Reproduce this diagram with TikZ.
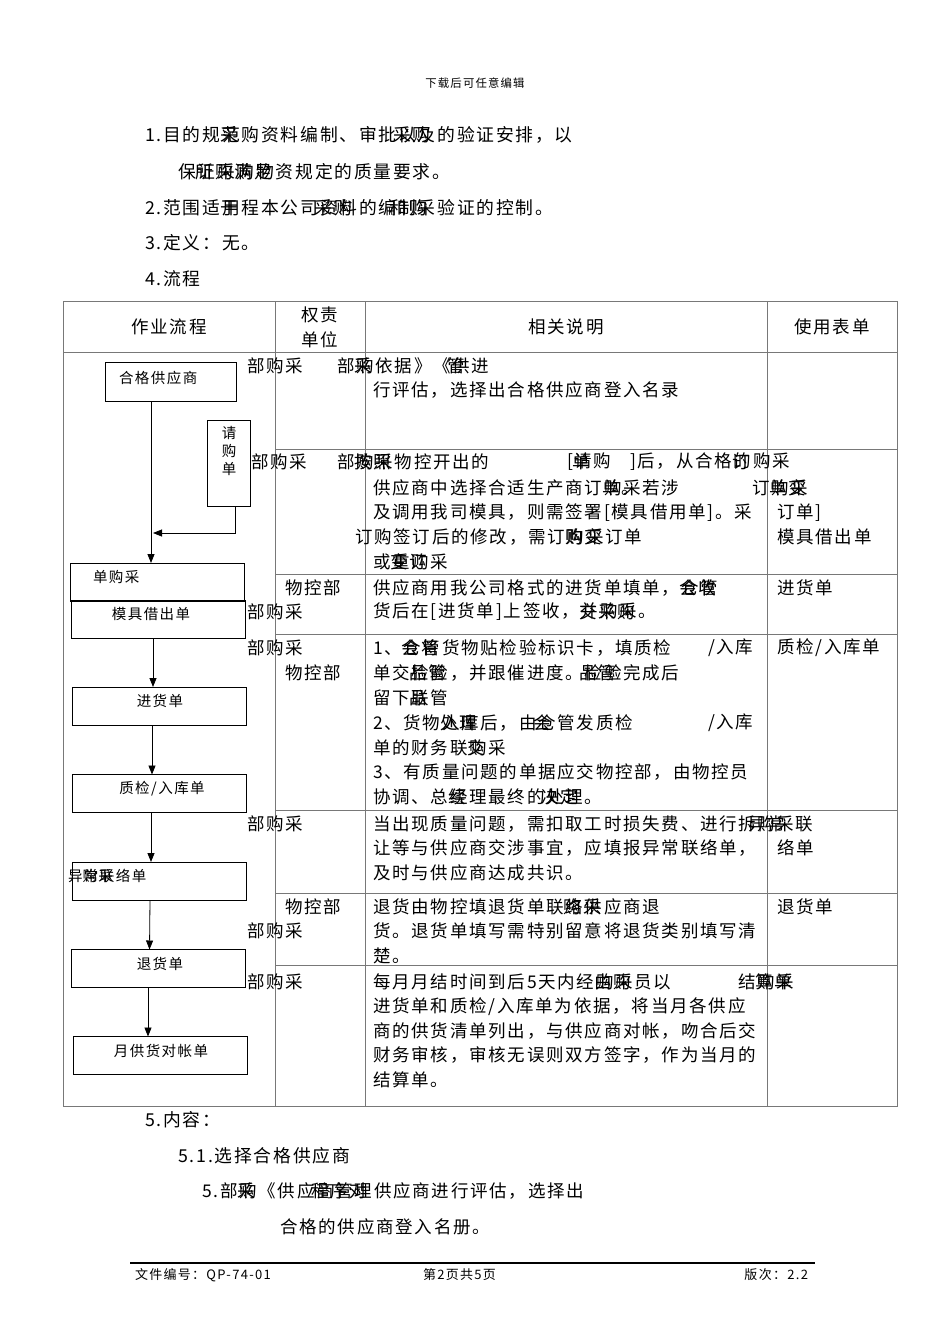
\documentclass[tikz,border=0pt]{standalone}
\usepackage{fontspec}
\setmainfont[LetterSpace=10]{Noto Sans CJK SC}
\usetikzlibrary{arrows.meta,positioning}
\definecolor{rulegray}{RGB}{120,120,120}

\newcommand{\bodysize}{\fontsize{17.5}{21}\selectfont}
\newcommand{\headsize}{\fontsize{17.8}{21}\selectfont}
\newcommand{\boxsize}{\fontsize{14.5}{18}\selectfont}
\newcommand{\smallsize}{\fontsize{11.4}{14}\selectfont}
\newcommand{\footsize}{\fontsize{13}{16}\selectfont}

\begin{document}
\begin{tikzpicture}[
  x=1pt, y=-1pt,
  every node/.style={inner sep=0pt, outer sep=0pt},
  txt/.style={font=\bodysize, anchor=west},
  ctxt/.style={font=\bodysize},
  hdtxt/.style={font=\headsize, anchor=west},
  flowbox/.style={draw, line width=0.9pt, minimum width=174pt, minimum height=38pt},
  flowtxt/.style={font=\boxsize},
  grid/.style={draw=rulegray, line width=0.9pt},
  flowarrow/.style={-{Triangle[length=9pt,width=7pt]}, line width=0.8pt}
]
\useasboundingbox[fill=white] (0,0) rectangle (950,1344);

% page header and purpose text
\node[font=\smallsize] (hdr) at (475,83) {下载后可任意编辑};
\node[hdtxt] (p1) at (145,135) {1.目的规范购资料编制、审批以及的验证安排，以};
\node[hdtxt] (p1o) at (145,135) {\hphantom{1.目的规}采\hphantom{购资料编制、审批}采购};
\node[hdtxt] (p1b) at (178,172) {保证采购物资规定的质量要求。};
\node[hdtxt] (p1bo) at (178,172) {\hphantom{保}所购满足};
\node[hdtxt] (p2) at (145,208) {2.范围适用程本公司资料的编制采验证的控制。};
\node[hdtxt] (p2o) at (145,208) {\hphantom{2.范围适}于\hphantom{程本公司}采购\hphantom{的编}和购};
\node[hdtxt] (p3) at (145,243) {3.定义：无。};
\node[hdtxt] (p4) at (145,279) {4.流程};

% table frame
\draw[grid] (63,301) rectangle (897,1106);
\foreach \cx in {275,365,767} \draw[grid] (\cx,301) -- (\cx,1106);
\draw[grid] (63,352) -- (897,352);
\foreach \ry in {449,574,634,810,893,965} \draw[grid] (275,\ry) -- (897,\ry);

% table header
\node[ctxt] (th1) at (169,327) {作业流程};
\node[ctxt] (th2a) at (320,315) {权责};
\node[ctxt] (th2b) at (320,340) {单位};
\node[ctxt] (th3) at (566,327) {相关说明};
\node[ctxt] (th4) at (832,327) {使用表单};

% flow column
\node[flowbox, minimum width=131pt, minimum height=39pt] (hgs) at (170.5,381.5) {};
\node[flowtxt, anchor=west] (hgst) at (119,378) {合格供应商};
\node[flowbox, minimum width=43pt, minimum height=86pt] (qgd) at (228.5,463) {};
\node[flowtxt, align=center] (qgdt) at (229,451) {请\\购\\单};
\node[flowbox] (dgc) at (157,582) {};
\node[flowtxt, anchor=west] (dgct) at (93,577) {单购采};
\node[flowbox] (mjd) at (158.5,619.5) {};
\node[flowtxt] (mjdt) at (151,614) {模具借出单};
\node[flowbox] (jhd) at (159,706) {};
\node[flowtxt] (jhdt) at (160,701) {进货单};
\node[flowbox] (zjd) at (159,793.5) {};
\node[flowtxt] (zjdt) at (162,789) {质检/入库单};
\node[flowbox] (ycd) at (159,881) {};
\node[flowtxt, anchor=west] (ycdt) at (68,876) {异常联络单};
\node[flowtxt, anchor=west] (ycdo) at (68,876) {\hphantom{异}购采};
\node[flowbox] (thd) at (158.5,968.5) {};
\node[flowtxt] (thdt) at (160,964) {退货单};
\node[flowbox] (ydz) at (160.5,1055.5) {};
\node[flowtxt] (ydzt) at (161,1051) {月供货对帐单};

\coordinate (mainjoin) at (153,533);
\draw[flowarrow] ([xshift=-19.5pt]hgs.south) -- ([xshift=-6pt]dgc.north);
\draw[flowarrow] ([xshift=6.5pt]qgd.south) |- (mainjoin);
\draw[flowarrow] ([xshift=-5.5pt]mjd.south) -- ([xshift=-6pt]jhd.north);
\draw[flowarrow] ([xshift=-7pt]jhd.south) -- ([xshift=-7pt]zjd.north);
\draw[flowarrow] ([xshift=-8pt]zjd.south) -- ([xshift=-8pt]ycd.north);
\draw[flowarrow] ([xshift=-9pt]ycd.south) -- ([xshift=-9pt]thd.north);
\draw[flowarrow] ([xshift=-10.5pt]thd.south) -- ([xshift=-12.5pt]ydz.north);

% row 1
\node[txt] (r1u) at (247,366) {部购采};
\node[txt] (r1a) at (337,366) {部购依据》《供进};
\node[txt] (r1ao) at (337,366) {\hphantom{部}采\hphantom{依据》《}管};
\node[txt] (r1b) at (373,390) {行评估，选择出合格供应商登入名录};

% row 2
\node[txt] (r2u) at (251,462) {部购采};
\node[txt] (r2a) at (337,462) {部购采物控开出的};
\node[txt] (r2ao) at (337,462) {\hphantom{部}按照};
\node[txt] (r2b) at (567,462) {[请购};
\node[txt] (r2bo) at (567,462) {\hphantom{[}单};
\node[txt] (r2c) at (630,462) {]后，从合格的购采};
\node[txt] (r2co) at (630,462) {\hphantom{]后，从合格}订};
\node[txt] (r2d) at (373,488) {供应商中选择合适生产商订购采若涉};
\node[txt] (r2do) at (373,488) {\hphantom{供应商中选择合适生产商订}单。};
\node[txt] (r2e) at (752,488) {订购采};
\node[txt] (r2eo) at (752,488) {\hphantom{订}单变};
\node[txt] (r2f) at (373,513) {及调用我司模具，则需签署[模具借用单]。采};
\node[txt] (r2g) at (777,513) {订单]};
\node[txt] (r2h) at (355,537) {订购签订后的修改，需订购采订单};
\node[txt] (r2ho) at (355,537) {\hphantom{订购签订后的修改，需订}购变};
\node[txt] (r2i) at (777,537) {模具借出单};
\node[txt] (r2j) at (373,562) {或重购采};
\node[txt] (r2jo) at (373,562) {\hphantom{或}变订};

% row 3
\node[txt] (r3u1) at (285,588) {物控部};
\node[txt] (r3u2) at (247,612) {部购采};
\node[txt] (r3a) at (373,588) {供应商用我公司格式的进货单填单，仓管};
\node[txt] (r3ao) at (373,588) {\hphantom{供应商用我公司格式的进货单填单，}会收};
\node[txt] (r3b) at (373,612) {货后在[进货单]上签收，并购采。};
\node[txt] (r3bo) at (373,612) {\hphantom{货后在[进货单]上签收，}交采购};
\node[txt] (r3f) at (777,588) {进货单};

% row 4
\node[txt] (r4u1) at (247,648) {部购采};
\node[txt] (r4u2) at (285,673) {物控部};
\node[txt] (r4a) at (373,648) {1、仓管货物贴检验标识卡，填质检};
\node[txt] (r4ao) at (373,648) {\hphantom{1、}会将};
\node[txt] (r4a2) at (708,648) {/入库};
\node[txt] (r4b) at (373,673) {单交检验，并跟催进度。检验完成后};
\node[txt] (r4bo) at (373,673) {\hphantom{单交}品管\hphantom{，并跟催进度。}品管};
\node[txt] (r4c) at (373,698) {留下联管};
\node[txt] (r4co) at (373,698) {\hphantom{留下}品};
\node[txt] (r4d) at (373,723) {2、货物入库后，由仓管发质检};
\node[txt] (r4do) at (373,723) {\hphantom{2、货物}处理\hphantom{后，由}会};
\node[txt] (r4d2) at (708,723) {/入库};
\node[txt] (r4e) at (373,748) {单的财务联购采};
\node[txt] (r4eo) at (373,748) {\hphantom{单的财务联}交};
\node[txt] (r4f) at (373,772) {3、有质量问题的单据应交物控部，由物控员};
\node[txt] (r4g) at (373,797) {协调、总经理最终的处理。};
\node[txt] (r4go) at (373,797) {\hphantom{协调、总}续\hphantom{理最终的}决定};
\node[txt] (r4h) at (777,648) {质检/入库单};

% row 5
\node[txt] (r5u) at (247,824) {部购采};
\node[txt] (r5a) at (373,824) {当出现质量问题，需扣取工时损失费、进行拆};
\node[txt] (r5a2) at (757,824) {购采联};
\node[txt] (r5a2o) at (748,824) {异常};
\node[txt] (r5b) at (373,848) {让等与供应商交涉事宜，应填报异常联络单，};
\node[txt] (r5b2) at (777,848) {络单};
\node[txt] (r5c) at (373,873) {及时与供应商达成共识。};

% row 6
\node[txt] (r6u1) at (285,907) {物控部};
\node[txt] (r6u2) at (247,931) {部购采};
\node[txt] (r6a) at (373,907) {退货由物控填退货单联络供应商退};
\node[txt] (r6ao) at (373,907) {\hphantom{退货由物控填退货单联}购采};
\node[txt] (r6b) at (373,931) {货。退货单填写需特别留意将退货类别填写清};
\node[txt] (r6c) at (373,956) {楚。};
\node[txt] (r6f) at (777,907) {退货单};

% row 7
\node[txt] (r7u) at (247,982) {部购采};
\node[txt] (r7a) at (373,982) {每月月结时间到后5天内经购采员以};
\node[txt] (r7ao) at (373,982) {\hphantom{每月月结时间到后5天内经}由购};
\node[txt] (r7a2) at (738,982) {结购采};
\node[txt] (r7a2o) at (738,982) {\hphantom{结}算单};
\node[txt] (r7b) at (373,1007) {进货单和质检/入库单为依据，将当月各供应};
\node[txt] (r7c) at (373,1031) {商的供货清单列出，与供应商对帐，吻合后交};
\node[txt] (r7d) at (373,1055) {财务审核，审核无误则双方签字，作为当月的};
\node[txt] (r7e) at (373,1080) {结算单。};

% contents
\node[hdtxt] (c5) at (145,1120) {5.内容：};
\node[hdtxt] (c51) at (178,1156) {5.1.选择合格供应商};
\node[txt] (c52) at (202,1191) {5.部购《供应商管理供应商进行评估，选择出};
\node[txt] (c52o) at (202,1191) {\hphantom{5.部}采\hphantom{《供应}程序对};
\node[txt] (c53) at (280,1227) {合格的供应商登入名册。};

% footer
\draw[line width=2.2pt] (130,1263) -- (815,1263);
\node[font=\footsize, anchor=west] (f1) at (135,1275) {文件编号：QP-74-01};
\node[font=\footsize, anchor=west] (f2) at (423,1275) {第2页共5页};
\node[font=\footsize, anchor=east] (f3) at (808,1275) {版次：2.2};
\end{tikzpicture}
\end{document}
